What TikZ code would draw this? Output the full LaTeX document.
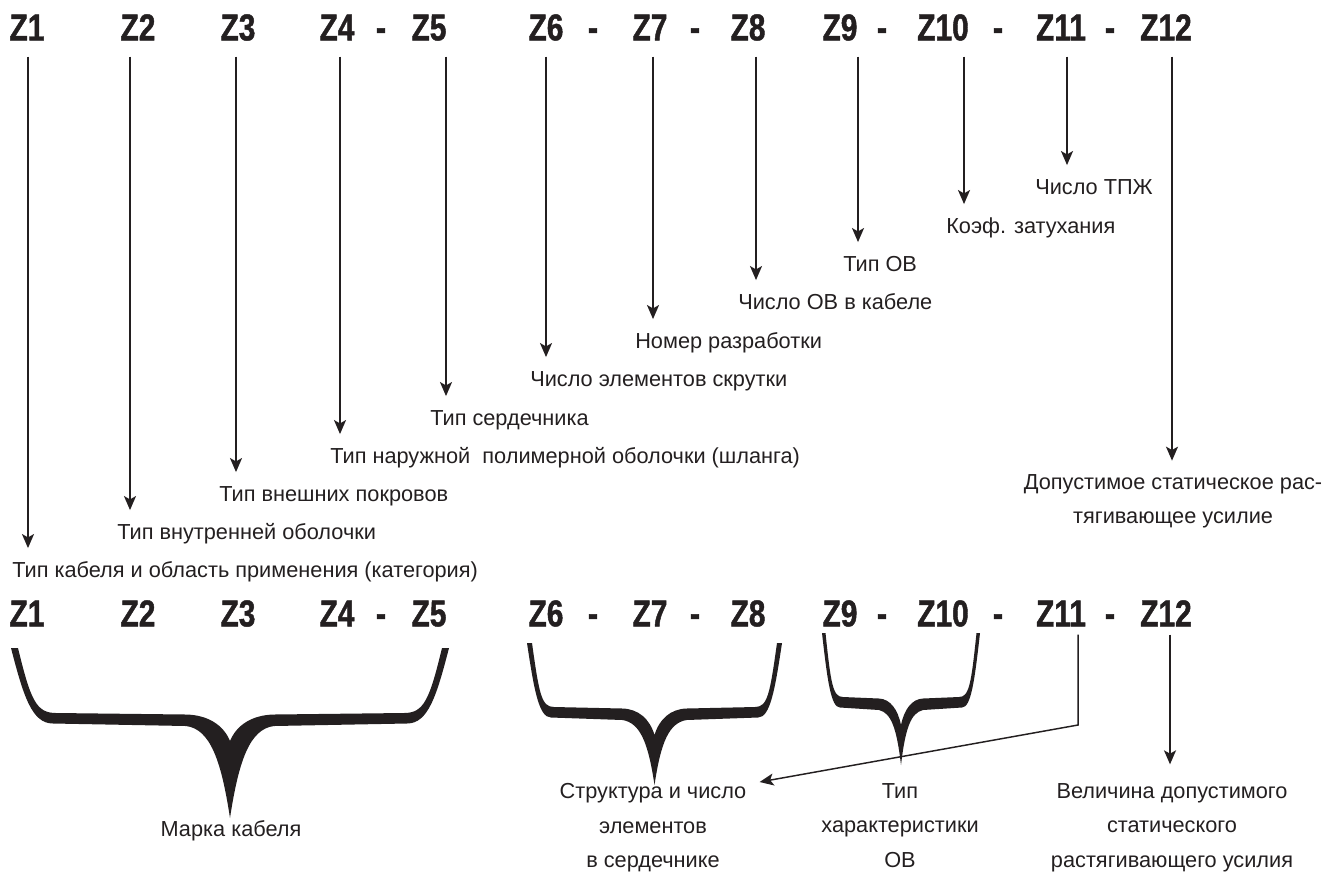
\documentclass[tikz,border=0pt]{standalone}
\usepackage{fontspec}
\setmainfont{Liberation Sans}
\newfontfamily\zfont[FakeStretch=0.8,FakeBold=1.2]{Liberation Sans Bold}
\usetikzlibrary{arrows.meta,positioning}
\definecolor{ink}{HTML}{231F20}

\newcommand{\cablebrace}[8]{%
  \fill[ink] ({#1-#2},#3)
    .. controls ({#1-#2+0.3*#6},{#3+0.75*(#4-#3)}) and ({#1-#2+0.5*#6},{#4+10.5}) .. ({#1-#2+#6},{#4+10.5})
    -- ({#1-#8},{#4+13})
    .. controls ({#1-0.45*#8},{#4+16}) and ({#1-0.2*#8},{#4+0.45*(#5-#4)}) .. ({#1},{#5})
    .. controls ({#1+0.2*#8},{#4+0.45*(#5-#4)}) and ({#1+0.45*#8},{#4+16}) .. ({#1+#8},{#4+13})
    -- ({#1+#2-#6},{#4+10.5})
    .. controls ({#1+#2-0.5*#6},{#4+10.5}) and ({#1+#2-0.3*#6},{#3+0.75*(#4-#3)}) .. ({#1+#2},#3)
    -- ({#1+#2-#7},#3)
    .. controls ({#1+#2-#7-0.3*#6},{#3+0.8*(#4-#3)}) and ({#1+#2-0.6*#6},{#4}) .. ({#1+#2-#6-3},{#4})
    -- ({#1+#8},{#4+1.5})
    .. controls ({#1+0.5*#8},{#4+2}) and ({#1+0.15*#8},{#4+12}) .. ({#1},{#4+28})
    .. controls ({#1-0.15*#8},{#4+12}) and ({#1-0.5*#8},{#4+2}) .. ({#1-#8},{#4+1.5})
    -- ({#1-#2+#6+3},{#4})
    .. controls ({#1-#2+0.6*#6},{#4}) and ({#1-#2+#7+0.3*#6},{#3+0.8*(#4-#3)}) .. ({#1-#2+#7},#3)
    -- cycle;}

\tikzset{
  zlab/.style={font=\zfont\fontsize{28}{30}\selectfont, inner sep=0, text height=20pt, text depth=0pt, text=ink},
  lab/.style={font=\fontsize{16.3}{26}\selectfont, inner sep=0, text height=12pt, text depth=3.5pt, anchor=west, text=ink},
  note/.style={font=\fontsize{16.3}{26}\selectfont, inner sep=0, align=center, anchor=north, text=ink},
  pointer/.style={draw=ink, line width=1.3pt, shorten <=12pt, shorten >=10pt,
    -{Stealth[length=10.5pt,width=9pt,inset=2.5pt]}},
}

\begin{document}
\begin{tikzpicture}[x=0.75pt,y=-0.75pt]
  \useasboundingbox (0,0) rectangle (1344,879);

  % top row
  \node[zlab] (z1) at (27,27) {Z1};
  \node[zlab] (z2) at (138,27) {Z2};
  \node[zlab] (z3) at (238,27) {Z3};
  \node[zlab] (z4) at (337,27) {Z4};
  \node[zlab] (d4) at (381,27) {-};
  \node[zlab] (z5) at (429,27) {Z5};
  \node[zlab] (z6) at (546,27) {Z6};
  \node[zlab] (d6) at (593,27) {-};
  \node[zlab] (z7) at (650,27) {Z7};
  \node[zlab] (d7) at (695,27) {-};
  \node[zlab] (z8) at (748,27) {Z8};
  \node[zlab] (z9) at (840,27) {Z9};
  \node[zlab] (d9) at (882,27) {-};
  \node[zlab] (z10) at (943,27) {Z10};
  \node[zlab] (d10) at (998,27) {-};
  \node[zlab] (z11) at (1061,27) {Z11};
  \node[zlab] (d11) at (1110,27) {-};
  \node[zlab] (z12) at (1166,27) {Z12};

  \node[lab] (l1) at (12,572) {Тип кабеля и область применения (категория)};
  \node[lab] (l2) at (117,534) {Тип внутренней оболочки};
  \node[lab] (l3) at (219,496) {Тип внешних покровов};
  \node[lab] (l4) at (330,458) {Тип наружной~ полимерной оболочки (шланга)};
  \node[lab] (l5) at (430,420) {Тип сердечника};
  \node[lab] (l6) at (530,381) {Число элементов скрутки};
  \node[lab] (l7) at (635,343) {Номер разработки};
  \node[lab] (l8) at (738,304) {Число ОВ в кабеле};
  \node[lab] (l9) at (843,266) {Тип ОВ};
  \node[lab] (l10) at (946,228) {Коэф. затухания};
  \node[lab] (l11) at (1035,189) {Число ТПЖ};
  \node[note] (l12) at (1173,474) {Допустимое статическое рас-\\тягивающее усилие};

  \draw[pointer] ([shift={(1,0)}]z1.south) -- ([shift={(1,0)}]z1.south |- l1.north);
  \draw[pointer] ([shift={(-8,0)}]z2.south) -- ([shift={(-8,0)}]z2.south |- l2.north);
  \draw[pointer] ([shift={(-2,0)}]z3.south) -- ([shift={(-2,0)}]z3.south |- l3.north);
  \draw[pointer] ([shift={(3,0)}]z4.south) -- ([shift={(3,0)}]z4.south |- l4.north);
  \draw[pointer] ([shift={(17,0)}]z5.south) -- ([shift={(17,0)}]z5.south |- l5.north);
  \draw[pointer] (z6.south) -- (z6.south |- l6.north);
  \draw[pointer] ([shift={(3,0)}]z7.south) -- ([shift={(3,0)}]z7.south |- l7.north);
  \draw[pointer] ([shift={(8,0)}]z8.south) -- ([shift={(8,0)}]z8.south |- l8.north);
  \draw[pointer] ([shift={(18,0)}]z9.south) -- ([shift={(18,0)}]z9.south |- l9.north);
  \draw[pointer] ([shift={(21,0)}]z10.south) -- ([shift={(21,0)}]z10.south |- l10.north);
  \draw[pointer] ([shift={(6,0)}]z11.south) -- ([shift={(6,0)}]z11.south |- l11.north);
  \draw[pointer] ([shift={(6,0)}]z12.south) -- ([shift={(6,0)}]z12.south |- l12.north);

  % bottom row
  \node[zlab] (z1b) at (27,613) {Z1};
  \node[zlab] (z2b) at (138,613) {Z2};
  \node[zlab] (z3b) at (238,613) {Z3};
  \node[zlab] (z4b) at (337,613) {Z4};
  \node[zlab] (d4b) at (381,613) {-};
  \node[zlab] (z5b) at (429,613) {Z5};
  \node[zlab] (z6b) at (546,613) {Z6};
  \node[zlab] (d6b) at (593,613) {-};
  \node[zlab] (z7b) at (650,613) {Z7};
  \node[zlab] (d7b) at (695,613) {-};
  \node[zlab] (z8b) at (748,613) {Z8};
  \node[zlab] (z9b) at (840,613) {Z9};
  \node[zlab] (d9b) at (882,613) {-};
  \node[zlab] (z10b) at (943,613) {Z10};
  \node[zlab] (d10b) at (998,613) {-};
  \node[zlab] (z11b) at (1061,613) {Z11};
  \node[zlab] (d11b) at (1110,613) {-};
  \node[zlab] (z12b) at (1166,613) {Z12};

  \cablebrace{230}{219}{648}{713}{818}{42}{7}{44}
  \cablebrace{654.5}{127.5}{643}{707}{785}{24}{5}{32}
  \cablebrace{901}{79}{633}{697}{765}{18}{3.5}{22}

  \node[note] (mk) at (231,820) {Марка кабеля};
  \node[note] (st) at (653,783) {Структура и число\\элементов\\в сердечнике};
  \node[note] (th) at (900,783) {Тип\\характеристики\\ОВ};
  \node[note] (vl) at (1172,783) {Величина допустимого\\статического\\растягивающего усилия};

  \coordinate (k11) at (1078,725);
  \draw[pointer, line width=1.1pt, shorten <=6pt, shorten >=0pt] ([shift={(17,0)}]z11b.south) -- (k11) -- ([shift={(13,-1)}]st.north east);
  \draw[pointer, shorten <=6pt, shorten >=14pt] ([shift={(4,0)}]z12b.south) -- ([shift={(4,0)}]z12b.south |- vl.north);
\end{tikzpicture}
\end{document}
